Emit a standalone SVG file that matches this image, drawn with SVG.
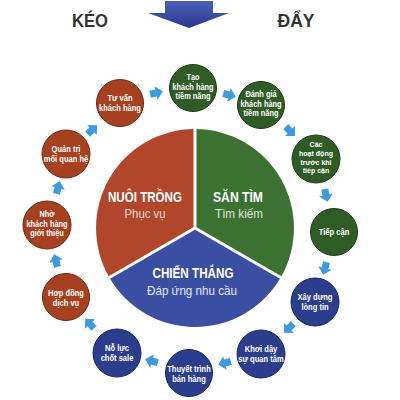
<svg xmlns="http://www.w3.org/2000/svg" xmlns:xlink="http://www.w3.org/1999/xlink" width="400" height="400" viewBox="0 0 400 400">
<defs>
<style>
.hd{font-family:"Liberation Sans",Arial,sans-serif;font-weight:bold;font-size:19px;fill:#333;text-anchor:middle}
.big{font-family:"Liberation Sans",Arial,sans-serif;font-weight:bold;font-size:14px;fill:#fff;text-anchor:middle}
.sub{font-family:"Liberation Sans",Arial,sans-serif;font-size:13px;text-anchor:middle}
.sm{font-family:"Liberation Sans",Arial,sans-serif;font-weight:bold;font-size:9px;fill:#fff;text-anchor:middle}
.sm3{font-family:"Liberation Sans",Arial,sans-serif;font-weight:bold;font-size:8.5px;fill:#fff;text-anchor:middle}
.sm4{font-family:"Liberation Sans",Arial,sans-serif;font-weight:bold;font-size:8px;fill:#fff;text-anchor:middle}
.g{fill:#2f5b26;stroke:#1e3a18;stroke-width:1}
.r{fill:#a7401f;stroke:#6e2814;stroke-width:1}
.b{fill:#2d3d8d;stroke:#1c2760;stroke-width:1}
.ar{fill:#3c9be0}
</style>
<linearGradient id="topg" x1="0" y1="0" x2="0" y2="1">
<stop offset="0" stop-color="#4b5fb5"/>
<stop offset="1" stop-color="#2b3990"/>
</linearGradient>
<path id="arr" d="M-6,-3.5 L0,-3.5 L0,-7 L7,0 L0,7 L0,3.5 L-6,3.5 Z"/>
</defs>
<rect width="400" height="400" fill="#fff"/>

<g id="header">
<text class="hd" x="90" y="27" textLength="36" lengthAdjust="spacingAndGlyphs">KÉO</text>
<text class="hd" x="296" y="27" textLength="37" lengthAdjust="spacingAndGlyphs">ĐẨY</text>
<polygon points="165,1 213,1 213,13 229,13 189,28 148,13 165,13" fill="url(#topg)"/>
</g>

<g id="pie">
<g id="nuoi-trong">
<path d="M195,228 L109.3,277.5 A99,99 0 0 1 195,129 Z" fill="#b1462a"/>
<text class="big" x="145" y="202" textLength="74" lengthAdjust="spacingAndGlyphs">NUÔI TRỒNG</text>
<text class="sub" x="145" y="218" fill="#f2d6cc" textLength="41" lengthAdjust="spacingAndGlyphs">Phục vụ</text>
</g>
<g id="san-tim">
<path d="M195,228 L195,129 A99,99 0 0 1 280.7,277.5 Z" fill="#3d7131"/>
<text class="big" x="238" y="202" textLength="50" lengthAdjust="spacingAndGlyphs">SĂN TÌM</text>
<text class="sub" x="239" y="218" fill="#dde7d6" textLength="48" lengthAdjust="spacingAndGlyphs">Tìm kiếm</text>
</g>
<g id="chien-thang">
<path d="M195,228 L280.7,277.5 A99,99 0 0 1 109.3,277.5 Z" fill="#3a4ea2"/>
<text class="big" x="193" y="278" textLength="81" lengthAdjust="spacingAndGlyphs">CHIẾN THẮNG</text>
<text class="sub" x="192" y="295" fill="#e2e6f4" textLength="90" lengthAdjust="spacingAndGlyphs">Đáp ứng nhu cầu</text>
</g>
<path d="M195,228 L195,127 M195,228 L282,278.3 M195,228 L108,278.3" stroke="#fff" stroke-width="3" fill="none"/>
</g>

<g id="n1" transform="translate(193,88)"><circle class="g" r="23.5"/><g transform="scale(0.87,1)"><text class="sm3" y="-8.2">Tạo</text><text class="sm3" y="1.5">khách hàng</text><text class="sm3" y="11.2">tiềm năng</text></g></g>
<g id="n2" transform="translate(261,105)"><circle class="g" r="23.5"/><g transform="scale(0.87,1)"><text class="sm3" y="-8.2">Đánh giá</text><text class="sm3" y="1.5">khách hàng</text><text class="sm3" y="11.2">tiềm năng</text></g></g>
<g id="n3" transform="translate(316,159)"><circle class="g" r="24"/><g transform="scale(0.88,1)"><text class="sm4" y="-12.5">Các</text><text class="sm4" y="-3.5">hoạt động</text><text class="sm4" y="5.5">trước khi</text><text class="sm4" y="14.5">tiếp cận</text></g></g>
<g id="n4" transform="translate(334,232)"><circle class="g" r="23.5"/><g transform="scale(0.84,1)"><text class="sm" y="3">Tiếp cận</text></g></g>
<g id="n5" transform="translate(315,302)"><circle class="b" r="24"/><g transform="scale(0.84,1)"><text class="sm" y="-2">Xây dựng</text><text class="sm" y="7.5">lòng tin</text></g></g>
<g id="n6" transform="translate(261,354)"><circle class="b" r="24"/><g transform="scale(0.84,1)"><text class="sm" y="-2">Khơi dậy</text><text class="sm" y="7.5">sự quan tâm</text></g></g>
<g id="n7" transform="translate(189,373)"><circle class="b" r="23.5"/><g transform="scale(0.84,1)"><text class="sm" y="-1">Thuyết trình</text><text class="sm" y="8.5">bán hàng</text></g></g>
<g id="n8" transform="translate(117,353)"><circle class="b" r="24"/><g transform="scale(0.84,1)"><text class="sm" y="-2">Nỗ lực</text><text class="sm" y="7.5">chốt sale</text></g></g>
<g id="n9" transform="translate(66,297)"><circle class="r" r="23.5"/><g transform="scale(0.84,1)"><text class="sm" y="-1">Hợp đồng</text><text class="sm" y="8.5">dịch vụ</text></g></g>
<g id="n10" transform="translate(47,225)"><circle class="r" r="24"/><g transform="scale(0.87,1)"><text class="sm3" y="-8.2">Nhờ</text><text class="sm3" y="1.5">khách hàng</text><text class="sm3" y="11.2">giới thiệu</text></g></g>
<g id="n11" transform="translate(66,154)"><circle class="r" r="24"/><g transform="scale(0.84,1)"><text class="sm" y="-2">Quản trị</text><text class="sm" y="7.5">mối quan hệ</text></g></g>
<g id="n12" transform="translate(120,103)"><circle class="r" r="23.5"/><g transform="scale(0.84,1)"><text class="sm" y="-2">Tư vấn</text><text class="sm" y="7.5">khách hàng</text></g></g>

<g id="connectors" class="ar">
<use xlink:href="#arr" transform="translate(156,93) rotate(-12)"/>
<use xlink:href="#arr" transform="translate(229,95) rotate(15)"/>
<use xlink:href="#arr" transform="translate(290,131) rotate(45)"/>
<use xlink:href="#arr" transform="translate(326,195) rotate(78)"/>
<use xlink:href="#arr" transform="translate(325,268) rotate(105)"/>
<use xlink:href="#arr" transform="translate(289,328) rotate(136)"/>
<use xlink:href="#arr" transform="translate(225,363) rotate(165)"/>
<use xlink:href="#arr" transform="translate(152,361) rotate(195)"/>
<use xlink:href="#arr" transform="translate(90,324) rotate(228)"/>
<use xlink:href="#arr" transform="translate(56,261) rotate(255)"/>
<use xlink:href="#arr" transform="translate(58,188) rotate(285)"/>
<use xlink:href="#arr" transform="translate(92,130) rotate(317)"/>
</g>
</svg>
